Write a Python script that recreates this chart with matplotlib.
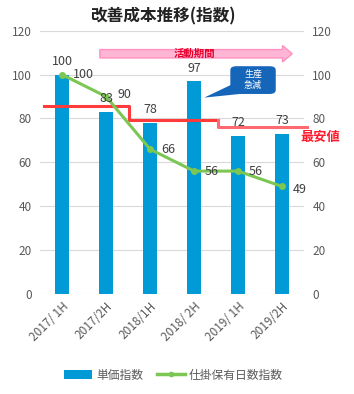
import matplotlib.pyplot as plt
import numpy as np
from matplotlib.patches import FancyBboxPatch, Polygon, FancyArrow
from matplotlib.lines import Line2D
from matplotlib.patches import Patch

plt.rcParams['font.family'] = ['Noto Sans CJK JP', 'DejaVu Sans']

# dados
periodos = ["2017/ 1H", "2017/2H", "2018/1H", "2018/ 2H", "2019/ 1H", "2019/2H"]
tanka = [100, 83, 78, 97, 72, 73]
shikake = [100, 90, 66, 56, 56, 49]
# linha de minimo (degraus)
min_x = [-0.41, 1.52, 1.52, 3.55, 3.55, 5.57]
min_y = [85.5, 85.5, 79.5, 79.5, 76, 76]

azul = "#009ad6"
verde = "#7cc653"
cinza = "#595959"

fig = plt.figure(figsize=(3.54, 3.94), dpi=100)
ax = fig.add_axes([0.113, 0.254, 0.746, 0.668])
x = np.arange(len(periodos))

ax.bar(x, tanka, width=0.3, color=azul, zorder=2)
ax.plot(x, shikake, color=verde, lw=2.2, marker='o', ms=4, zorder=4)

# degraus do minimo
ax.plot(min_x[:4], min_y[:4], color="#ff3b3b", lw=2.2, zorder=3, clip_on=False)
ax.plot(min_x[3:], min_y[3:], color="#ff6a72", lw=2.2, zorder=3, clip_on=False)

ax.set_xlim(-0.5, 5.5)
ax.set_ylim(0, 120)
ax.set_yticks(range(0, 121, 20))
ax.grid(axis='y', color="#d9d9d9", lw=0.8, zorder=0)
for s in ax.spines.values():
    s.set_visible(False)
ax.tick_params(length=0, labelsize=8.5, colors=cinza, pad=6)
ax.set_xticks(x)
ax.set_xticklabels(periodos, rotation=45, ha='right', rotation_mode='anchor')
ax.tick_params(axis='x', pad=4)

ax2 = ax.twinx()
ax2.set_ylim(0, 120)
ax2.set_yticks(range(0, 121, 20))
for s in ax2.spines.values():
    s.set_visible(False)
ax2.tick_params(length=0, labelsize=8.5, colors=cinza, pad=6)

# rotulos
for i, v in enumerate(tanka):
    ax.text(i, v + 3, str(v), ha='center', va='bottom', fontsize=9, color="#404040", zorder=5)
offs = [(0.25, 0), (0.25, 1), (0.25, 0), (0.25, 0), (0.25, 0), (0.25, -1.5)]
for i, v in enumerate(shikake):
    ax.text(i + offs[i][0], v + offs[i][1], str(v), ha='left', va='center', fontsize=9, color="#404040", zorder=5)

# seta do periodo
arr = FancyArrow(0.86, 109.5, 4.15, 0, width=3.8, head_width=7.5, head_length=0.22,
                 length_includes_head=False, facecolor="#ffb6d5", edgecolor="#ff8fbf",
                 lw=1, clip_on=False, zorder=3)
ax.add_patch(arr)
ax.text(3.0, 109.5, "活動期間", ha='center', va='center', fontsize=7.5, color="#e8002a",
        fontweight='bold', zorder=4)

# balao
box = FancyBboxPatch((3.84, 91.5), 1.0, 12.0, boxstyle="round,pad=0,rounding_size=0.12",
                     mutation_aspect=12, facecolor="#1565b8", edgecolor="#1565b8", zorder=5, clip_on=False)
ax.add_patch(box)
ax.add_patch(Polygon([(3.86, 95.5), (4.25, 91.6), (3.23, 89.5)], closed=True,
                     facecolor="#1565b8", edgecolor="none", zorder=5))
ax.text(4.34, 97.5, "生産\n急減", ha='center', va='center', fontsize=6.5, color="white",
        linespacing=1.25, zorder=6)

ax.text(5.41, 71.6, "最安値", ha='left', va='center', fontsize=9.5, color="#ff1a2e",
        fontweight='bold', clip_on=False)

fig.text(0.46, 0.957, "改善成本推移(指数)", ha='center', va='center', fontsize=12,
         fontweight='bold', color="#222222")

handles = [Patch(facecolor=azul), Line2D([0], [0], color=verde, lw=2.5, marker='o', ms=3)]
fig.legend(handles, ["単価指数", "仕掛保有日数指数"], loc='center', bbox_to_anchor=(0.49, 0.048),
           ncol=2, frameon=False, fontsize=8.5, handlelength=2.4, handleheight=0.8,
           columnspacing=1.2, handletextpad=0.3, labelcolor=cinza)

fig.savefig("out.png", dpi=100)
